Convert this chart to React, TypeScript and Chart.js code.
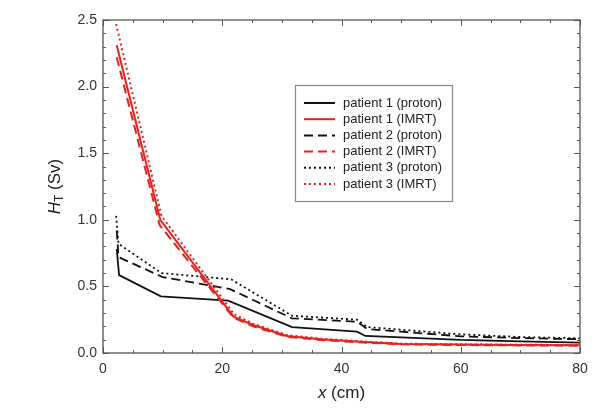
import React, { useEffect, useRef } from 'react';
import { Chart, registerables } from 'chart.js';

Chart.register(...registerables);

// Data (x in cm, H_T in Sv)
const p1ProtonX = [2.3, 2.7, 9.7, 21.0, 31.7, 42.6, 44.0, 50, 60, 70, 80];
const p1ProtonY = [0.78, 0.585, 0.425, 0.393, 0.195, 0.16, 0.128, 0.118, 0.098, 0.088, 0.078];

const p2ProtonX = [2.3, 2.6, 10.0, 21.3, 31.7, 42.6, 44.3, 50, 60, 70, 80];
const p2ProtonY = [0.92, 0.72, 0.57, 0.48, 0.26, 0.235, 0.18, 0.16, 0.125, 0.112, 0.103];

const p3ProtonX = [2.2, 2.6, 9.8, 21.5, 31.7, 42.6, 44.3, 50, 60, 70, 80];
const p3ProtonY = [1.03, 0.82, 0.6, 0.553, 0.28, 0.25, 0.195, 0.175, 0.14, 0.12, 0.11];

const p1ImrtX = [2.3, 9.6, 21.9, 25.2, 30.8, 36.4, 43.1, 50, 60, 70, 80];
const p1ImrtY = [2.31, 1.0, 0.273, 0.21, 0.128, 0.103, 0.085, 0.068, 0.063, 0.06, 0.058];

const p2ImrtX = [2.3, 9.5, 21.9, 25.2, 30.8, 36.4, 43.1, 50, 60, 70, 80];
const p2ImrtY = [2.22, 0.96, 0.265, 0.2, 0.122, 0.098, 0.08, 0.065, 0.06, 0.057, 0.055];

const p3ImrtX = [2.2, 9.8, 22.0, 25.2, 30.8, 36.4, 43.1, 50, 60, 70, 80];
const p3ImrtY = [2.47, 1.03, 0.29, 0.22, 0.135, 0.108, 0.088, 0.07, 0.065, 0.062, 0.06];

const xTicks = [0, 20, 40, 60, 80];
const yTicks = [0, 0.5, 1.0, 1.5, 2.0, 2.5];

const legendLabels = [
  'patient 1 (proton)',
  'patient 1 (IMRT)',
  'patient 2 (proton)',
  'patient 2 (IMRT)',
  'patient 3 (proton)',
  'patient 3 (IMRT)',
];

const BLACK = '#111111';
const RED = '#e8211e';
const SOLID: number[] = [];
const DASH = [9, 5];
const DOT = [2, 3];

const legendStyles = [
  { color: BLACK, dash: SOLID },
  { color: RED, dash: SOLID },
  { color: BLACK, dash: DASH },
  { color: RED, dash: DASH },
  { color: BLACK, dash: DOT },
  { color: RED, dash: DOT },
];

const FONT = '"Liberation Sans", Arial, sans-serif';

function pts(xs: number[], ys: number[]) {
  return xs.map((x, i) => ({ x, y: ys[i] }));
}

const decorPlugin = {
  id: 'decor',
  afterDatasetsDraw(chart: any) {
    const { ctx, chartArea } = chart;
    const { left, right, top, bottom } = chartArea;
    const xs = chart.scales.x;
    const ys = chart.scales.y;
    ctx.save();
    // frame
    ctx.strokeStyle = '#555';
    ctx.lineWidth = 1.3;
    ctx.setLineDash([]);
    ctx.strokeRect(left, top, right - left, bottom - top);
    // x ticks (inward, top and bottom)
    ctx.lineWidth = 1;
    ctx.beginPath();
    for (let v = 0; v <= 80; v += 5) {
      const px = Math.round(xs.getPixelForValue(v)) + 0.5;
      const len = v % 20 === 0 ? 6 : 3;
      ctx.moveTo(px, bottom);
      ctx.lineTo(px, bottom - len);
      ctx.moveTo(px, top);
      ctx.lineTo(px, top + len);
    }
    for (let i = 0; i <= 25; i++) {
      const py = Math.round(ys.getPixelForValue(i / 10)) + 0.5;
      const len = i % 5 === 0 ? 6 : 3;
      ctx.moveTo(left, py);
      ctx.lineTo(left + len, py);
      ctx.moveTo(right, py);
      ctx.lineTo(right - len, py);
    }
    ctx.stroke();

    // legend
    const lx = 295.5, ly = 85.5, lw = 157, lh = 116;
    ctx.fillStyle = '#ffffff';
    ctx.fillRect(lx, ly, lw, lh);
    ctx.strokeStyle = '#888';
    ctx.lineWidth = 1.2;
    ctx.strokeRect(lx, ly, lw, lh);
    ctx.font = `13px ${FONT}`;
    ctx.textBaseline = 'middle';
    ctx.textAlign = 'left';
    legendLabels.forEach((label, i) => {
      const yy = 103 + i * 16.2;
      const st = legendStyles[i];
      ctx.strokeStyle = st.color;
      ctx.lineWidth = 2;
      ctx.setLineDash(st.dash);
      ctx.beginPath();
      ctx.moveTo(304, yy);
      ctx.lineTo(335, yy);
      ctx.stroke();
      ctx.setLineDash([]);
      ctx.fillStyle = '#222';
      ctx.fillText(label, 343, yy);
    });

    // axis titles
    ctx.fillStyle = '#222';
    ctx.textBaseline = 'middle';
    // x title
    const xt = 'x';
    const xr = ' (cm)';
    ctx.font = `italic 17px ${FONT}`;
    const wx = ctx.measureText(xt).width;
    ctx.font = `17px ${FONT}`;
    const wr = ctx.measureText(xr).width;
    const cx = (left + right) / 2;
    let sx = cx - (wx + wr) / 2;
    ctx.font = `italic 17px ${FONT}`;
    ctx.textAlign = 'left';
    ctx.fillText(xt, sx, 393);
    ctx.font = `17px ${FONT}`;
    ctx.fillText(xr, sx + wx, 393);

    // y title rotated
    ctx.save();
    ctx.translate(55, (top + bottom) / 2);
    ctx.rotate(-Math.PI / 2);
    ctx.font = `italic 17px ${FONT}`;
    const wH = ctx.measureText('H').width;
    ctx.font = `12px ${FONT}`;
    const wT = ctx.measureText('T').width;
    ctx.font = `17px ${FONT}`;
    const wS = ctx.measureText(' (Sv)').width;
    let tx = -(wH + wT + wS) / 2;
    ctx.font = `italic 17px ${FONT}`;
    ctx.fillText('H', tx, 0);
    ctx.font = `12px ${FONT}`;
    ctx.fillText('T', tx + wH, 5);
    ctx.font = `17px ${FONT}`;
    ctx.fillText(' (Sv)', tx + wH + wT, 0);
    ctx.restore();

    ctx.restore();
  },
};

export default function App() {
  const ref = useRef<HTMLCanvasElement | null>(null);
  useEffect(() => {
    if (!ref.current) return;
    const mk = (label: string, xs: number[], ys: number[], color: string, dash: number[], w: number) => ({
      label,
      data: pts(xs, ys),
      borderColor: color,
      backgroundColor: color,
      borderWidth: w,
      borderDash: dash,
      pointRadius: 0,
      tension: 0,
      fill: false,
    });
    const chart = new Chart(ref.current, {
      type: 'line',
      data: {
        datasets: [
          mk('patient 1 (IMRT)', p1ImrtX, p1ImrtY, RED, SOLID, 2),
          mk('patient 2 (IMRT)', p2ImrtX, p2ImrtY, RED, DASH, 2),
          mk('patient 3 (IMRT)', p3ImrtX, p3ImrtY, RED, DOT, 2),
          mk('patient 1 (proton)', p1ProtonX, p1ProtonY, BLACK, SOLID, 1.8),
          mk('patient 2 (proton)', p2ProtonX, p2ProtonY, BLACK, DASH, 1.8),
          mk('patient 3 (proton)', p3ProtonX, p3ProtonY, BLACK, DOT, 1.8),
        ] as any,
      },
      options: {
        animation: false,
        responsive: false,
        devicePixelRatio: 1,
        layout: { padding: { top: 20, right: 21, left: 0, bottom: 0 } },
        plugins: { legend: { display: false }, tooltip: { enabled: false } },
        scales: {
          x: {
            type: 'linear',
            min: 0,
            max: 80,
            afterFit: (s: any) => { s.height = 59; },
            afterBuildTicks: (s: any) => { s.ticks = xTicks.map((v) => ({ value: v })); },
            grid: { display: false, drawTicks: false },
            border: { display: false },
            ticks: {
              padding: 8,
              color: '#333',
              font: { family: FONT, size: 14 },
              maxRotation: 0,
              callback: (v: any) => String(v),
            },
          },
          y: {
            type: 'linear',
            min: 0,
            max: 2.5,
            afterFit: (s: any) => { s.width = 103; },
            afterBuildTicks: (s: any) => { s.ticks = yTicks.map((v) => ({ value: v })); },
            grid: { display: false, drawTicks: false },
            border: { display: false },
            ticks: {
              padding: 6,
              color: '#333',
              font: { family: FONT, size: 14 },
              callback: (v: any) => Number(v).toFixed(1),
            },
          },
        },
      },
      plugins: [decorPlugin],
    });
    return () => chart.destroy();
  }, []);
  return (
    <div style={{ position: 'absolute', left: 0, top: 0, width: 601, height: 412, background: '#fff' }}>
      <canvas ref={ref} width={601} height={412} style={{ display: 'block' }} />
    </div>
  );
}
